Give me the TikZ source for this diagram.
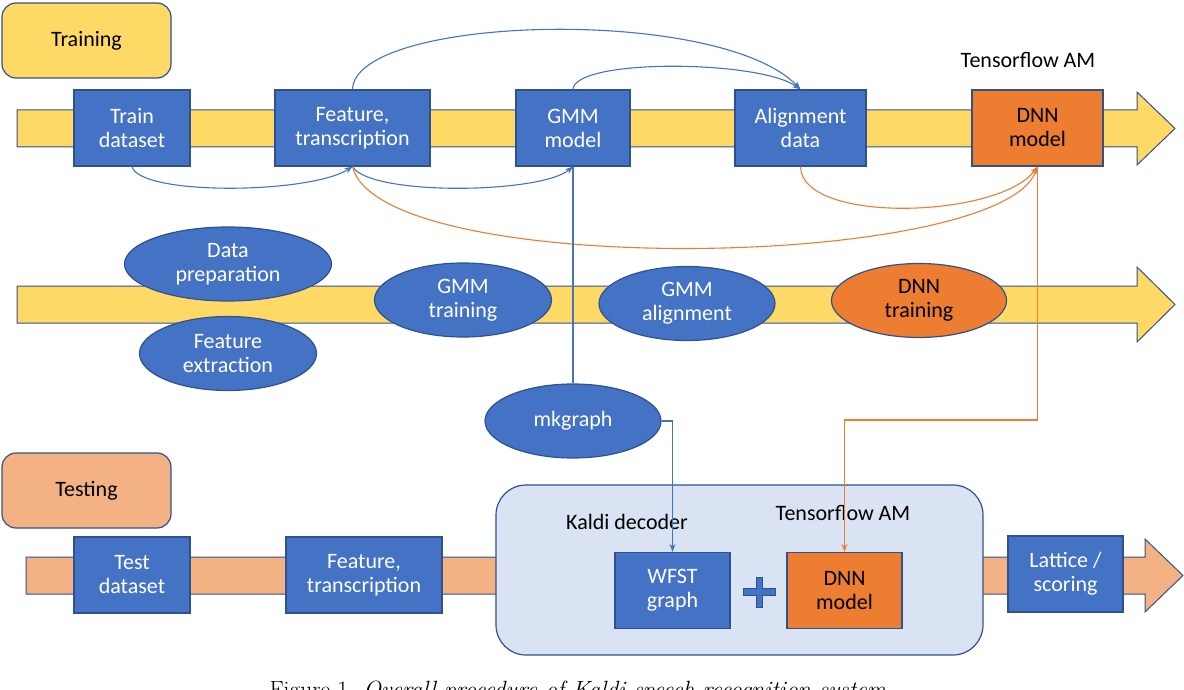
\documentclass[tikz,border=0pt]{standalone}
\usepackage{fontspec}
\setmainfont{Carlito}
\newfontfamily\capfont{Latin Modern Roman}
\usetikzlibrary{arrows.meta,shapes.geometric}
\definecolor{boxblue}{RGB}{68,114,196}
\definecolor{lineblue}{RGB}{47,82,143}
\definecolor{bandyellow}{RGB}{255,217,102}
\definecolor{dnnorange}{RGB}{237,125,49}
\definecolor{bandpeach}{RGB}{244,177,131}
\definecolor{decoderblue}{RGB}{218,227,243}
\tikzstyle{stage}=[rectangle,fill=boxblue,draw=lineblue,line width=1.2pt,text=white,align=center,inner sep=0pt,minimum height=76pt]
\tikzstyle{dnnstage}=[stage,fill=dnnorange,text=black]
\tikzstyle{task}=[ellipse,fill=boxblue,draw=lineblue,line width=1.2pt,text=white,align=center,inner sep=0pt,minimum height=74pt]
\tikzstyle{phase}=[rectangle,rounded corners=14pt,draw=lineblue,line width=1.2pt,minimum width=169pt,minimum height=75pt]
\tikzstyle{band}=[draw=lineblue,line width=1pt]
\tikzstyle{flow}=[draw,line width=1.1pt,->,boxblue]
\tikzstyle{dnnflow}=[draw,line width=1.1pt,->,dnnorange]

\begin{document}
\begin{tikzpicture}[x=1pt,y=-1pt,font=\fontsize{22}{24}\selectfont,>={Stealth[length=8pt,width=6pt]}]
    \useasboundingbox (0,0) rectangle (1184,690);

    % the three process arrows
    \path[band,fill=bandyellow] (17,110) -- (1137,110) -- (1137,92) -- (1175,128.5) -- (1137,165) -- (1137,147) -- (17,147) -- cycle;
    \path[band,fill=bandyellow] (17,286) -- (1137,286) -- (1137,267) -- (1175,304.5) -- (1137,342) -- (1137,323) -- (17,323) -- cycle;
    \path[band,fill=bandpeach] (26,557) -- (1145,557) -- (1145,539) -- (1183,575.5) -- (1145,612) -- (1145,594) -- (26,594) -- cycle;

    \node[phase,fill=bandyellow] (training) at (86.5,40.5) {Training};
    \node[phase,fill=bandpeach] (testing) at (86.5,490.5) {Testing};

    % training outputs
    \foreach \pos/\w/\name/\txt in {{(132,128)/116/train/{Train\\dataset}}, {(352.5,128)/155/feat/{Feature,\\transcription}},
        {(573,128)/114/gmm/{GMM\\model}}, {(800.5,128)/131/align/{Alignment\\data}}}
        \node[stage,minimum width=\w pt] (\name) at \pos {\txt};
    \node[dnnstage,minimum width=131pt] (dnn) at (1037.5,128) {DNN\\model};
    \node (tfam) at (1028,60) {Tensorflow AM};

    % training steps
    \foreach \pos/\w/\name/\txt in {{(228,264)/207/dataprep/{Data\\preparation}}, {(228,353.5)/177/featext/{Feature\\extraction}},
        {(463,300)/177/gmmtrain/{GMM\\training}}, {(687,303.5)/176/gmmalign/{GMM\\alignment}}, {(573,421)/176/mkgraph/{mkgraph}}}
        \node[task,minimum width=\w pt] (\name) at \pos {\txt};
    \node[task,fill=dnnorange,text=black,minimum width=175pt] (dnntrain) at (919,300.5) {DNN\\training};

    % testing
    \node[rectangle,rounded corners=30pt,fill=decoderblue,draw=lineblue,line width=1.2pt,minimum width=487pt,minimum height=170pt] (decoder) at (739.5,570) {};
    \node (kaldi) at (627,522) {Kaldi decoder};
    \node (tfamtest) at (843,513) {Tensorflow AM};
    \foreach \pos/\w/\name/\txt in {{(132,575)/116/testdata/{Test\\dataset}}, {(364,575)/156/testfeat/{Feature,\\transcription}},
        {(672.5,590.5)/115/wfst/{WFST\\graph}}, {(1065.5,574)/115/lattice/{Lattice /\\scoring}}}
        \node[stage,minimum width=\w pt] (\name) at \pos {\txt};
    \node[dnnstage,minimum width=115pt] (testdnn) at (844.5,590.5) {DNN\\model};
    \path[fill=boxblue,draw=lineblue,line width=0.8pt] (756,577) -- (762,577) -- (762,588.5) -- (775,588.5) -- (775,595) -- (762,595) -- (762,607.5) -- (756,607.5) -- (756,595) -- (743,595) -- (743,588.5) -- (756,588.5) -- cycle;

    % data flow
    \draw[flow] (feat.north) .. controls (355,15) and (720,5) .. (align.north);
    \draw[flow] (gmm.north) .. controls (575,58) and (760,60) .. (align.north);
    \draw[flow] (train.south) .. controls (140,196) and (310,194) .. (feat.south);
    \draw[flow] (feat.south) .. controls (370,196) and (540,194) .. (gmm.south);
    \draw[dnnflow] (align.south) .. controls (802,225) and (1000,218) .. (dnn.south);
    \draw[dnnflow] (feat.south) .. controls (380,280) and (1000,270) .. (dnn.south);
    \draw[flow,-] (gmm.south) -- (mkgraph.north);
    \draw[flow] (mkgraph.east) -| (wfst.north);
    \coordinate (bend) at (1037.5,420);
    \draw[dnnflow] (dnn.south) -- (bend) -| (testdnn.north);

    % caption, cut by the page edge as in the source
    \begin{scope}
        \clip (0,0) rectangle (1184,690);
        \node[font=\capfont\fontsize{23.5}{28}\selectfont,anchor=base] (caption) at (578,697) {Figure 1. \textit{Overall procedure of Kaldi speech recognition system}};
    \end{scope}
\end{tikzpicture}
\end{document}
